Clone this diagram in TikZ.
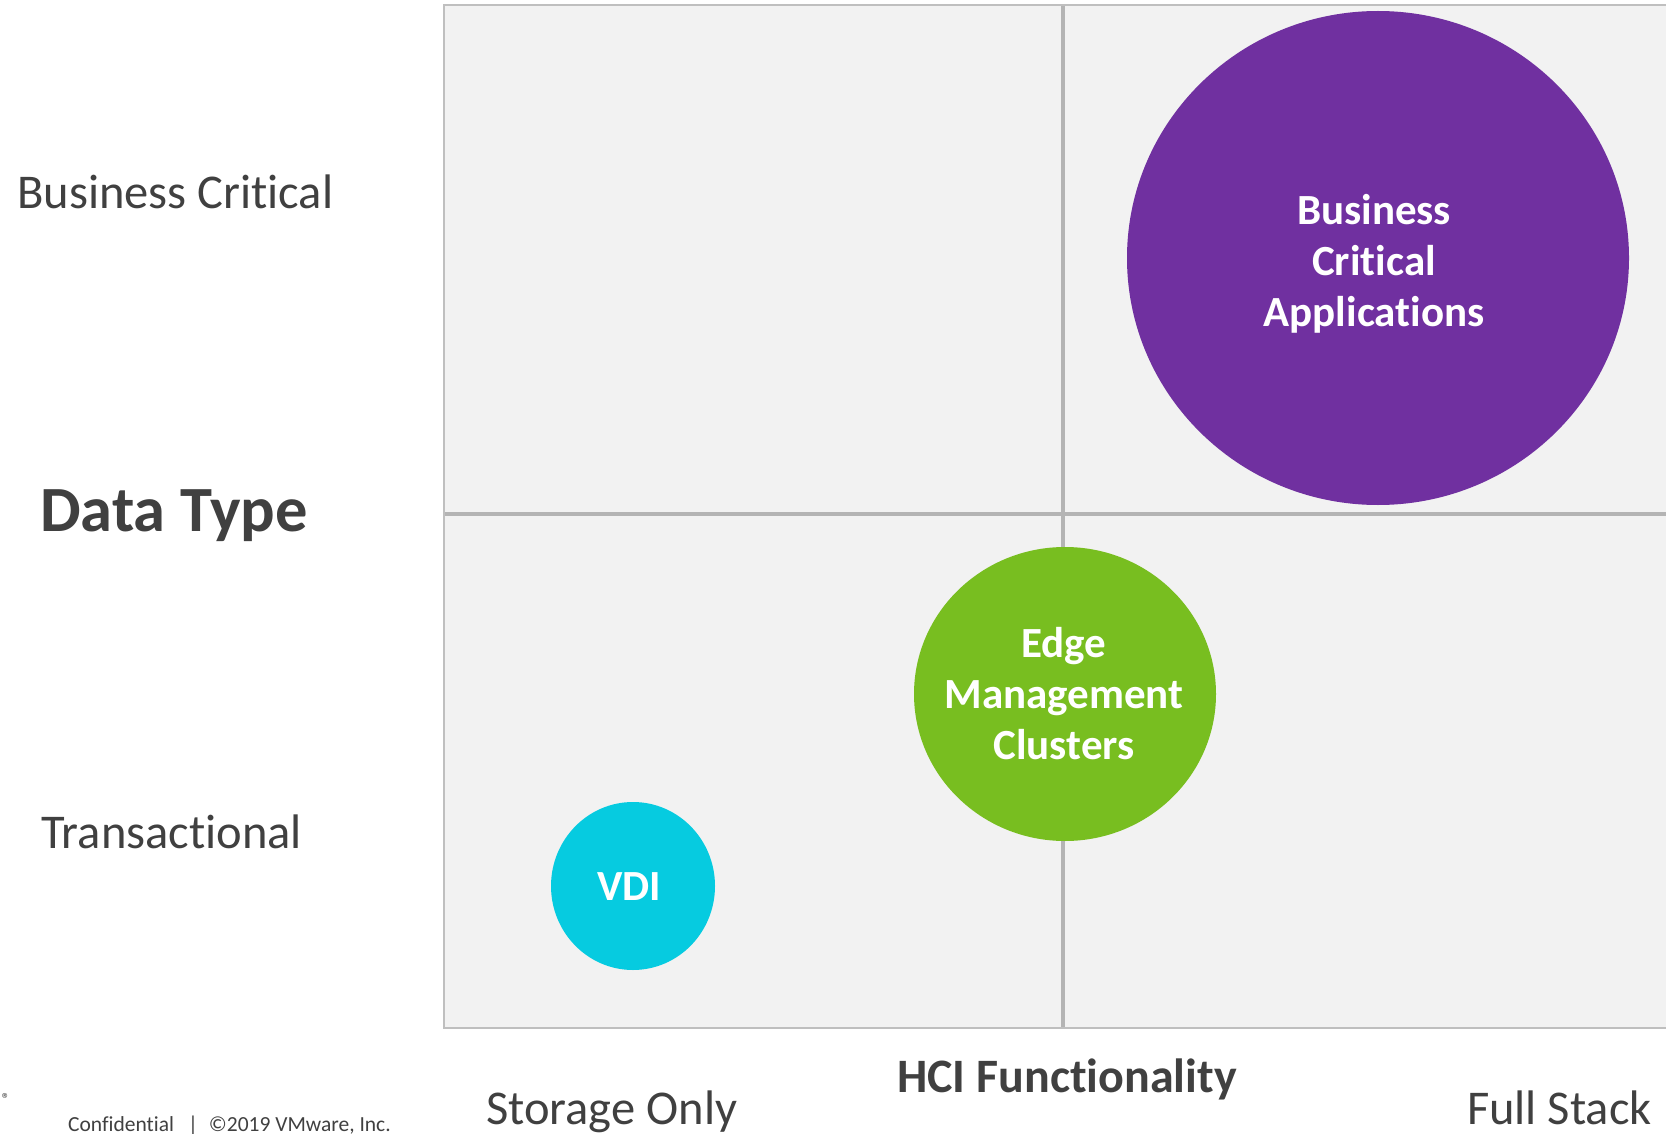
\documentclass[tikz,border=0pt]{standalone}
\usepackage{fontspec}
\setmainfont{Carlito}[Ligatures=CommonOff]
\usetikzlibrary{shapes.geometric}
\definecolor{gridfill}{HTML}{F2F2F2}
\definecolor{gridline}{HTML}{BFBFBF}
\definecolor{axisline}{HTML}{B4B4B4}
\definecolor{txtgray}{HTML}{404040}
\definecolor{bcpurple}{HTML}{7030A0}
\definecolor{edgegreen}{HTML}{78BE20}
\definecolor{vdicyan}{HTML}{06CBE0}
\begin{document}
\begin{tikzpicture}[x=1pt,y=-1pt,
  axislabel/.style={inner sep=0pt,text=txtgray,font=\fontsize{48.5}{56}\selectfont},
  bubble/.style={ellipse,inner sep=0pt},
  bubbletext/.style={inner sep=0pt,text=white,align=center,
    font=\fontsize{43}{51}\selectfont\bfseries}]
\useasboundingbox[fill=white] (0,0) rectangle (1666,1134);
% quadrant area
\fill[gridfill] (444,5) rectangle (1666,1028);
\draw[gridline,line width=2pt] (1666,5) -- (444,5) -- (444,1028) -- (1666,1028);
\coordinate (vtop) at (1063,6);
\coordinate (vbot) at (1063,1027);
\coordinate (hleft) at (445,514);
\coordinate (hright) at (1666,514);
\draw[axisline,line width=4.5pt] (vtop) -- (vbot);
\draw[axisline,line width=4pt] (hleft) -- (hright);
% bubbles
\node[bubble,fill=bcpurple,minimum width=502pt,minimum height=494pt] (bca) at (1378,258) {};
\node[bubbletext] (bcat) at (1374,264) {Business\\Critical\\Applications};
\node[bubble,fill=edgegreen,minimum width=302pt,minimum height=294pt] (edge) at (1065,694) {};
\node[bubbletext] (edget) at (1064,694) {Edge\\Management\\Clusters};
\node[bubble,fill=vdicyan,minimum width=164pt,minimum height=168pt] (vdi) at (633,886) {};
\node[bubbletext] (vdit) at (629,887) {VDI};
% axis labels
\node[axislabel,anchor=base west] (bc) at (17,209) {Business Critical};
\node[axislabel,anchor=base west,font=\fontsize{64.5}{70}\selectfont\bfseries] (dt) at (40,531) {Data Type};
\node[axislabel,anchor=base west] (tr) at (41,848) {Transactional};
\node[axislabel,anchor=base west] (so) at (486,1124) {Storage Only};
\node[axislabel,anchor=base east] (fs) at (1652,1124) {Full Stack};
\node[axislabel,anchor=base,font=\fontsize{48}{54}\selectfont\bfseries] (hci) at (1067,1092) {HCI Functionality};
\node[inner sep=0pt,anchor=base west,text=txtgray,font=\fontsize{21.5}{24}\selectfont] (conf) at (68,1131)
  {Confidential\hspace*{14pt}|\hspace*{11pt}©2019 VMware, Inc.};
\node[inner sep=0pt,text=txtgray,font=\fontsize{16}{18}\selectfont] (reg) at (6,1099) {®};
\end{tikzpicture}
\end{document}
